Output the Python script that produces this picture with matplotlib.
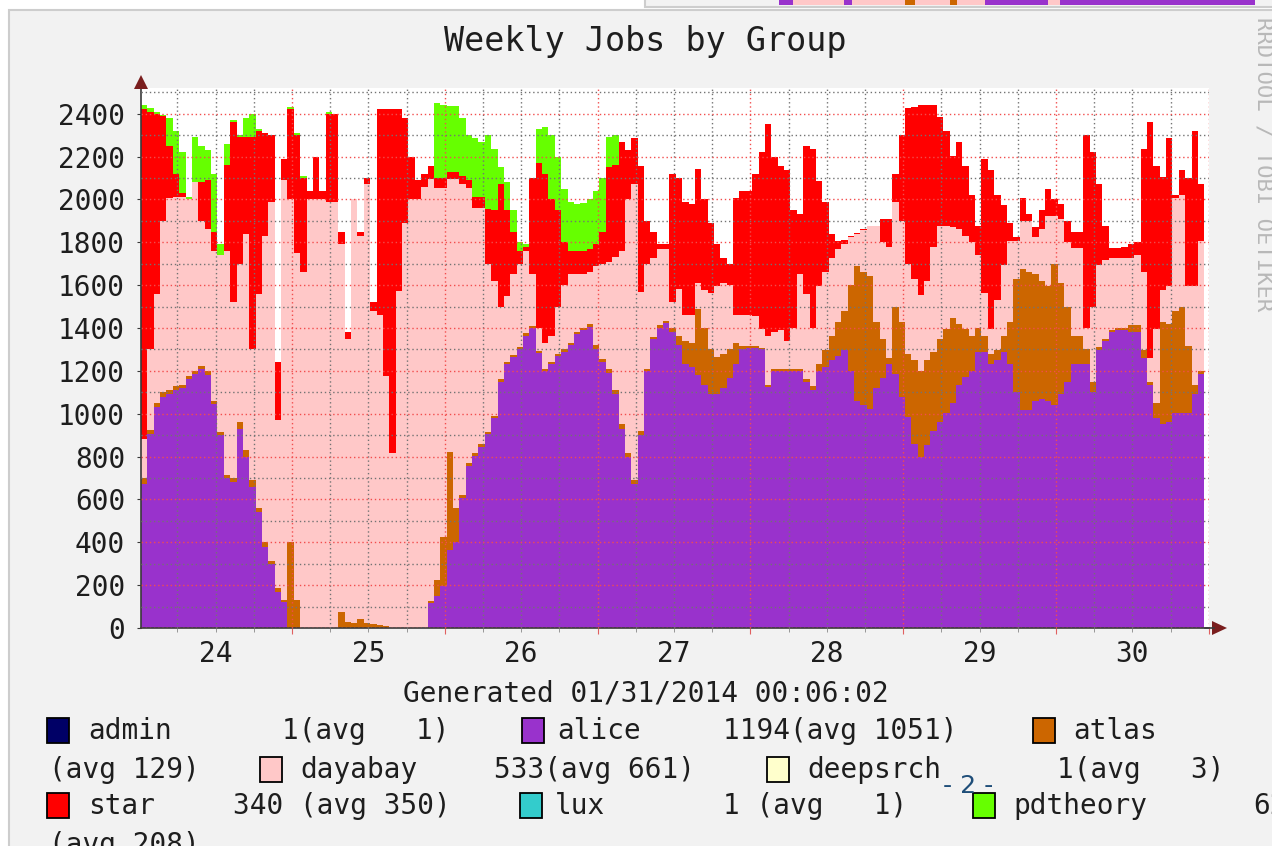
import numpy as np
import matplotlib
matplotlib.use("Agg")
import matplotlib.pyplot as plt
from matplotlib.patches import Rectangle, Polygon

plt.rcParams['font.family'] = 'DejaVu Sans Mono'

# DATA: hourly samples (first step starts 24 Jan ~00:15)
# each list is the top of the stack after adding that group
t_start = 24.012

alice_top = [
    670, 907, 1033, 1080, 1090, 1113, 1120, 1160, 1185, 1210, 1180, 1044,
    900, 700, 680, 930, 800, 660, 540, 380, 300, 170, 120, 0,
    0, 0, 0, 0, 0, 0, 0, 0, 0, 0, 0, 0,
    0, 0, 0, 0, 0, 0, 0, 0, 0, 115, 148, 197,
    362, 400, 608, 756, 805, 847, 904, 980, 1150, 1233, 1266, 1300,
    1365, 1400, 1282, 1200, 1233, 1270, 1290, 1320, 1370, 1390, 1405, 1300,
    1241, 1190, 1090, 930, 800, 670, 900, 1200, 1348, 1400, 1422, 1380,
    1320, 1230, 1217, 1180, 1134, 1093, 1093, 1118, 1167, 1233, 1300, 1307,
    1307, 1300, 1126, 1200, 1200, 1200, 1200, 1200, 1150, 1110, 1200, 1220,
    1250, 1270, 1299, 1200, 1060, 1040, 1020, 1118, 1167, 1230, 1184, 1080,
    986, 860, 800, 855, 920, 960, 1003, 1052, 1134, 1170, 1200, 1290,
    1290, 1233, 1249, 1290, 1233, 1101, 1019, 1019, 1060, 1069, 1060, 1040,
    1090, 1150, 1233, 1233, 1233, 1100, 1299, 1340, 1380, 1390, 1390, 1381,
    1381, 1260, 1134, 980, 953, 960, 1003, 1003, 1003, 1090, 1184]

atlas_top = [
    700, 925, 1050, 1100, 1110, 1130, 1135, 1175, 1200, 1225, 1200, 1060,
    915, 715, 700, 960, 830, 690, 560, 400, 315, 185, 130, 400,
    130, 0, 0, 0, 0, 0, 0, 74, 30, 25, 40, 25,
    20, 15, 10, 0, 0, 0, 0, 0, 0, 125, 224, 427,
    822, 560, 620, 770, 815, 857, 914, 990, 1160, 1243, 1276, 1310,
    1375, 1410, 1292, 1210, 1243, 1280, 1300, 1330, 1380, 1400, 1420, 1320,
    1255, 1210, 1110, 950, 815, 690, 920, 1210, 1360, 1415, 1432, 1400,
    1365, 1340, 1330, 1490, 1400, 1300, 1266, 1280, 1300, 1330, 1315, 1315,
    1315, 1307, 1135, 1210, 1210, 1210, 1210, 1210, 1160, 1130, 1233, 1299,
    1365, 1430, 1480, 1600, 1690, 1660, 1644, 1430, 1350, 1260, 1500, 1430,
    1280, 1250, 1200, 1250, 1290, 1348, 1397, 1447, 1420, 1397, 1365, 1400,
    1365, 1280, 1299, 1365, 1430, 1628, 1677, 1660, 1652, 1620, 1595, 1700,
    1611, 1500, 1365, 1365, 1300, 1150, 1310, 1350, 1390, 1400, 1400, 1414,
    1414, 1299, 1150, 1052, 1430, 1420, 1480, 1496, 1315, 1134, 1200]

dayabay_top = [
    880, 1300, 1560, 1900, 2006, 2010, 2010, 2000, 2080, 1900, 1860, 1760,
    1740, 1760, 1520, 1700, 1840, 1300, 1560, 1830, 1990, 970, 2090, 2000,
    1750, 1660, 2000, 2000, 2000, 1990, 1990, 1790, 1350, 2000, 1830, 2070,
    1480, 1460, 1175, 815, 1575, 1890, 2000, 2000, 2060, 2096, 2055, 2055,
    2096, 2096, 2070, 2055, 1960, 1960, 1700, 1620, 1500, 1550, 1650, 1700,
    1760, 1650, 1400, 1332, 1365, 1500, 1600, 1650, 1652, 1652, 1660, 1690,
    1700, 1710, 1730, 1760, 2000, 2070, 1570, 1700, 1726, 1767, 1767, 1520,
    1580, 1463, 1463, 1611, 1578, 1562, 1595, 1611, 1600, 1463, 1463, 1463,
    1455, 1397, 1365, 1381, 1390, 1340, 1400, 1650, 1560, 1400, 1595, 1660,
    1726, 1770, 1790, 1825, 1841, 1858, 1874, 1874, 1800, 1780, 1990, 1900,
    1700, 1628, 1553, 1620, 1780, 1874, 1874, 1870, 1860, 1830, 1800, 1743,
    1562, 1397, 1529, 1693, 1808, 1808, 1900, 1900, 1825, 1860, 1923, 1923,
    1907, 1800, 1775, 1775, 1400, 1496, 1693, 1718, 1726, 1726, 1726, 1726,
    1743, 1660, 1260, 1397, 1578, 1595, 2006, 2022, 1595, 1595, 1808]

star_top = [
    2420, 2410, 2400, 2390, 2250, 2120, 2030, 2000, 2080, 2080, 2090, 1850,
    1740, 2160, 2360, 2290, 2290, 2290, 2320, 2310, 2300, 1240, 2190, 2420,
    2300, 2100, 2040, 2200, 2040, 2400, 2400, 1850, 1380, 2000, 1850, 2100,
    1520, 2420, 2420, 2420, 2420, 2380, 2200, 2090, 2120, 2154, 2100, 2100,
    2129, 2129, 2110, 2090, 2010, 2010, 1956, 1950, 2071, 1950, 1850, 1760,
    1780, 2100, 2170, 2120, 2000, 1950, 1800, 1760, 1760, 1760, 1770, 1790,
    1850, 2150, 2160, 2270, 2230, 2285, 2154, 1900, 1850, 1790, 1790, 2120,
    2100, 1990, 1981, 2140, 2000, 1890, 1792, 1726, 1700, 2006, 2040, 2040,
    2120, 2220, 2350, 2200, 2154, 2137, 1950, 1930, 2250, 2236, 2088, 1990,
    1841, 1808, 1810, 1830, 1845, 1860, 1875, 1875, 1910, 1910, 2120, 2300,
    2425, 2430, 2441, 2441, 2441, 2384, 2318, 2203, 2269, 2154, 2022, 1874,
    2187, 2137, 2022, 1973, 1890, 1825, 2006, 1930, 1870, 1950, 2050, 2000,
    1980, 1900, 1850, 1850, 2300, 2220, 2071, 1874, 1775, 1775, 1780, 1792,
    1800, 2236, 2360, 2154, 2104, 2285, 2022, 2137, 2100, 2318, 2071]

# pdtheory only runs until ~27 Jan midday, nothing on top of star after that
pdtheory_head = [
    2440, 2425, 2410, 2395, 2380, 2320, 2220, 2010, 2290, 2250, 2230, 2120,
    1790, 2260, 2370, 2300, 2380, 2400, 2330, 2310, 2300, 1240, 2190, 2430,
    2310, 2110, 2040, 2200, 2040, 2410, 2400, 1850, 1380, 2000, 1850, 2100,
    1520, 2420, 2420, 2420, 2420, 2380, 2200, 2090, 2120, 2154, 2450, 2440,
    2435, 2435, 2380, 2300, 2285, 2270, 2300, 2236, 2150, 2080, 1950, 1800,
    1790, 2100, 2330, 2340, 2300, 2200, 2050, 1990, 1980, 1985, 2000, 2040,
    2100, 2290, 2300, 2270, 2230, 2285, 2154, 1900, 1850, 1790, 1790, 2120]
pdtheory_top = pdtheory_head + star_top[len(pdtheory_head):]

day_labels = ['24', '25', '26', '27', '28', '29', '30']

colors = {'admin': '#000066', 'alice': '#9932CC', 'atlas': '#CC6600',
          'dayabay': '#FFC8C8', 'deepsrch': '#FFFFCC', 'star': '#FF0000',
          'lux': '#33CCCC', 'pdtheory': '#66FF00'}

# legend text as printed by rrdtool (last value, weekly average)
legend_items = [
    # group, square x, row, label x, value text, value x
    ('admin', 47, 0, 88, '1(avg   1)', 282),
    ('alice', 522, 0, 557, '1194(avg 1051)', 723),
    ('atlas', 1033, 0, 1073, '', 0),
    ('dayabay', 260, 1, 300, '533(avg 661)', 494),
    ('deepsrch', 767, 1, 807, '1(avg   3)', 1057),
    ('star', 47, 2, 88, '340 (avg 350)', 233),
    ('lux', 520, 2, 555, '1 (avg   1)', 723),
    ('pdtheory', 973, 2, 1013, '62', 1253),
]
wrapped_text = [('(avg 129)', 49, 1), ('(avg 208)', 49, 3)]
row_y = [731, 770, 806, 845]

W, H = 1272, 846
fig = plt.figure(figsize=(W / 100, H / 100), dpi=100, facecolor='white')

# background canvas (pixel coords)
bg = fig.add_axes([0, 0, 1, 1], zorder=0)
bg.set_xlim(0, W)
bg.set_ylim(H, 0)
bg.axis('off')
bg.add_patch(Rectangle((9, 10), 1300, 860, fc='#F2F2F2', ec='#CDCDCD', lw=1.5))
# bottom edge of the neighbouring image at the top right
bg.add_patch(Rectangle((645, -6), 700, 13, fc='#F2F2F2', ec='#CDCDCD', lw=1.5))
strip = [(779, 793, '#9932CC'), (793, 844, '#FFC8C8'), (844, 852, '#9932CC'),
         (852, 905, '#FFC8C8'), (905, 915, '#CC6600'), (915, 950, '#FFC8C8'),
         (950, 957, '#CC6600'), (957, 985, '#FFC8C8'), (985, 1048, '#9932CC'),
         (1048, 1060, '#FFC8C8'), (1060, 1255, '#9932CC')]
for x0, x1, c in strip:
    bg.add_patch(Rectangle((x0, 0), x1 - x0, 5, fc=c, ec='none'))

# main plot
x_px0, x_px1, y_px0, y_px1 = 141, 1208.8, 628, 88
ax = fig.add_axes([x_px0 / W, 1 - y_px0 / H, (x_px1 - x_px0) / W, (y_px0 - y_px1) / H],
                  zorder=1)
ax.set_facecolor('white')

edges = t_start + np.arange(len(alice_top) + 1) / 24.0
# paint the stack from the top down so layers never leave seams
layers = [(pdtheory_top, 'pdtheory'), (star_top, 'star'), (dayabay_top, 'dayabay'),
          (atlas_top, 'atlas'), (alice_top, 'alice')]
for tops, name in layers:
    ax.stairs(tops, edges, baseline=0, fill=True, color=colors[name], lw=0)

ax.set_xlim(t_start, 31.0)
ax.set_ylim(0, 2520)

ax.set_yticks(np.arange(0, 2401, 200))
ax.set_yticks(np.arange(100, 2501, 100), minor=True)
midnights = np.arange(25, 32)
ax.set_xticks(midnights, [''] * len(midnights))
six_h = [d + q for d in range(24, 31) for q in (0.25, 0.5, 0.75)]
six_lbl = [day_labels[int(v) - 24] if abs(v % 1 - 0.5) < 1e-6 else '' for v in six_h]
ax.set_xticks(six_h, six_lbl, minor=True)

ax.set_axisbelow(False)
ax.grid(which='major', color=(0.95, 0.3, 0.3, 0.45), ls=(0, (1, 2)), lw=1)
ax.grid(which='minor', color=(0.45, 0.45, 0.45, 0.35), ls=(0, (1, 2)), lw=1)

for s in ('top', 'right'):
    ax.spines[s].set_visible(False)
for s in ('left', 'bottom'):
    ax.spines[s].set_color('#3A3A3A')
    ax.spines[s].set_linewidth(1.2)

ax.tick_params(axis='y', which='major', length=3, color='#3A3A3A', pad=8.5,
               labelsize=20, labelcolor='#1E1E1E')
ax.tick_params(axis='y', which='minor', length=0)
ax.tick_params(axis='x', which='major', length=4, color='#E06060', labelsize=20)
ax.tick_params(axis='x', which='minor', length=3, color='#888888', pad=6,
               labelsize=20, labelcolor='#1E1E1E')

# foreground: arrows, title, legend, watermark
fg = fig.add_axes([0, 0, 1, 1], zorder=2)
fg.set_xlim(0, W)
fg.set_ylim(H, 0)
fg.axis('off')
fg.patch.set_alpha(0)

fg.plot([1205, 1214], [628, 628], color='#3A3A3A', lw=1.2)
fg.add_patch(Polygon([(134, 89), (148, 89), (141, 75)], closed=True, fc='#7A1E1E', ec='none'))
fg.add_patch(Polygon([(1212, 621), (1212, 635), (1227, 628)], closed=True, fc='#7A1E1E', ec='none'))

fg.text(645, 42, 'Weekly Jobs by Group', ha='center', va='center', fontsize=24,
        color='#1E1E1E')
fg.text(646, 693, 'Generated 01/31/2014 00:06:02', ha='center', va='center',
        fontsize=20, color='#1E1E1E')
fg.text(1263, 164, 'RRDTOOL / TOBI OETIKER', rotation=270, ha='center', va='center',
        fontsize=16, color='#B8B8B8')

for name, sx, row, lx, val, vx in legend_items:
    yc = row_y[row]
    fg.add_patch(Rectangle((sx, yc - 13), 22, 25, fc=colors[name], ec='black', lw=1.3))
    fg.text(lx, yc, name, ha='left', va='center', fontsize=20, color='#1E1E1E')
    if val:
        fg.text(vx, yc, val, ha='left', va='center', fontsize=20, color='#1E1E1E')
for txt, x, row in wrapped_text:
    fg.text(x, row_y[row], txt, ha='left', va='center', fontsize=20, color='#1E1E1E')

# page marker that sits over the legend in the source
fg.text(968, 786, '- 2 -', ha='center', va='center', fontsize=18,
        color='#1F4E79', family='DejaVu Sans')

fig.savefig('out.png', dpi=100, facecolor=fig.get_facecolor())
